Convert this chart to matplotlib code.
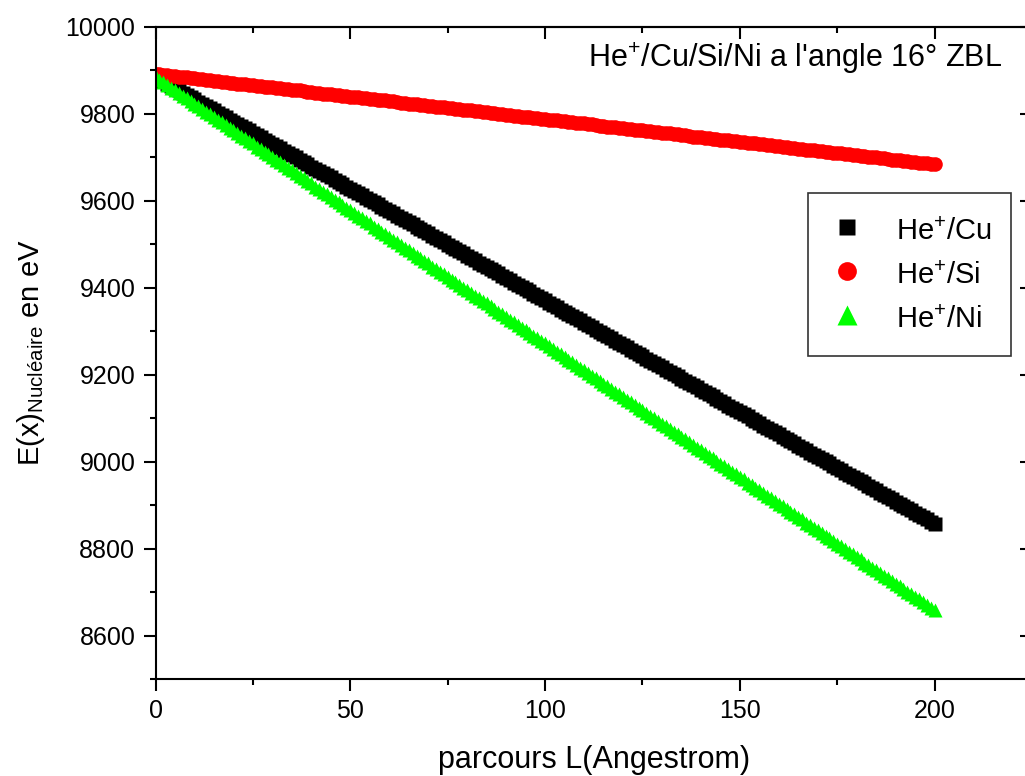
import numpy as np
import matplotlib
matplotlib.use("Agg")
import matplotlib.pyplot as plt
from matplotlib.ticker import MultipleLocator

plt.rcParams['font.family'] = ['Liberation Sans', 'DejaVu Sans']
plt.rcParams['mathtext.fontset'] = 'custom'
plt.rcParams['mathtext.rm'] = 'Liberation Sans'
plt.rcParams['mathtext.it'] = 'Liberation Sans:italic'

# -------------------------------
# Data, path length L in Angstrom
# -------------------------------
parcours = [
    0, 1, 2, 3, 4, 5, 6, 7, 8, 9, 10, 11, 12, 13, 14, 15, 16, 17, 18, 19,
    20, 21, 22, 23, 24, 25, 26, 27, 28, 29, 30, 31, 32, 33, 34, 35, 36, 37, 38, 39,
    40, 41, 42, 43, 44, 45, 46, 47, 48, 49, 50, 51, 52, 53, 54, 55, 56, 57, 58, 59,
    60, 61, 62, 63, 64, 65, 66, 67, 68, 69, 70, 71, 72, 73, 74, 75, 76, 77, 78, 79,
    80, 81, 82, 83, 84, 85, 86, 87, 88, 89, 90, 91, 92, 93, 94, 95, 96, 97, 98, 99,
    100, 101, 102, 103, 104, 105, 106, 107, 108, 109, 110, 111, 112, 113, 114, 115, 116, 117, 118, 119,
    120, 121, 122, 123, 124, 125, 126, 127, 128, 129, 130, 131, 132, 133, 134, 135, 136, 137, 138, 139,
    140, 141, 142, 143, 144, 145, 146, 147, 148, 149, 150, 151, 152, 153, 154, 155, 156, 157, 158, 159,
    160, 161, 162, 163, 164, 165, 166, 167, 168, 169, 170, 171, 172, 173, 174, 175, 176, 177, 178, 179,
    180, 181, 182, 183, 184, 185, 186, 187, 188, 189, 190, 191, 192, 193, 194, 195, 196, 197, 198, 199,
    200,
]

E_cu = [
    9885, 9880, 9875, 9870, 9864, 9859, 9854, 9849, 9844, 9839, 9834, 9828, 9823, 9818, 9813, 9808, 9803, 9798, 9792, 9787,
    9782, 9777, 9772, 9767, 9762, 9756, 9751, 9746, 9741, 9736, 9731, 9726, 9721, 9715, 9710, 9705, 9700, 9695, 9690, 9685,
    9679, 9674, 9669, 9664, 9659, 9654, 9649, 9643, 9638, 9633, 9628, 9623, 9618, 9613, 9607, 9602, 9597, 9592, 9587, 9582,
    9577, 9571, 9566, 9561, 9556, 9551, 9546, 9541, 9535, 9530, 9525, 9520, 9515, 9510, 9505, 9499, 9494, 9489, 9484, 9479,
    9474, 9469, 9464, 9458, 9453, 9448, 9443, 9438, 9433, 9428, 9422, 9417, 9412, 9407, 9402, 9397, 9392, 9386, 9381, 9376,
    9371, 9366, 9361, 9356, 9350, 9345, 9340, 9335, 9330, 9325, 9320, 9314, 9309, 9304, 9299, 9294, 9289, 9284, 9278, 9273,
    9268, 9263, 9258, 9253, 9248, 9242, 9237, 9232, 9227, 9222, 9217, 9212, 9207, 9201, 9196, 9191, 9186, 9181, 9176, 9171,
    9165, 9160, 9155, 9150, 9145, 9140, 9135, 9129, 9124, 9119, 9114, 9109, 9104, 9099, 9093, 9088, 9083, 9078, 9073, 9068,
    9063, 9057, 9052, 9047, 9042, 9037, 9032, 9027, 9021, 9016, 9011, 9006, 9001, 8996, 8991, 8985, 8980, 8975, 8970, 8965,
    8960, 8955, 8950, 8944, 8939, 8934, 8929, 8924, 8919, 8914, 8908, 8903, 8898, 8893, 8888, 8883, 8878, 8872, 8867, 8862,
    8857,
]

E_si = [
    9892, 9891, 9890, 9889, 9888, 9887, 9886, 9885, 9884, 9883, 9882, 9881, 9880, 9878, 9877, 9876, 9875, 9874, 9873, 9872,
    9871, 9870, 9869, 9868, 9867, 9866, 9865, 9864, 9863, 9862, 9861, 9860, 9859, 9858, 9857, 9856, 9855, 9854, 9852, 9851,
    9850, 9849, 9848, 9847, 9846, 9845, 9844, 9843, 9842, 9841, 9840, 9839, 9838, 9837, 9836, 9835, 9834, 9833, 9832, 9831,
    9830, 9829, 9828, 9826, 9825, 9824, 9823, 9822, 9821, 9820, 9819, 9818, 9817, 9816, 9815, 9814, 9813, 9812, 9811, 9810,
    9809, 9808, 9807, 9806, 9805, 9804, 9803, 9802, 9800, 9799, 9798, 9797, 9796, 9795, 9794, 9793, 9792, 9791, 9790, 9789,
    9788, 9787, 9786, 9785, 9784, 9783, 9782, 9781, 9780, 9779, 9778, 9777, 9776, 9774, 9773, 9772, 9771, 9770, 9769, 9768,
    9767, 9766, 9765, 9764, 9763, 9762, 9761, 9760, 9759, 9758, 9757, 9756, 9755, 9754, 9753, 9752, 9751, 9750, 9748, 9747,
    9746, 9745, 9744, 9743, 9742, 9741, 9740, 9739, 9738, 9737, 9736, 9735, 9734, 9733, 9732, 9731, 9730, 9729, 9728, 9727,
    9726, 9725, 9724, 9722, 9721, 9720, 9719, 9718, 9717, 9716, 9715, 9714, 9713, 9712, 9711, 9710, 9709, 9708, 9707, 9706,
    9705, 9704, 9703, 9702, 9701, 9700, 9699, 9698, 9696, 9695, 9694, 9693, 9692, 9691, 9690, 9689, 9688, 9687, 9686, 9685,
    9684,
]

E_ni = [
    9885, 9879, 9873, 9867, 9860, 9854, 9848, 9842, 9836, 9830, 9824, 9818, 9811, 9805, 9799, 9793, 9787, 9781, 9775, 9768,
    9762, 9756, 9750, 9744, 9738, 9732, 9725, 9719, 9713, 9707, 9701, 9695, 9689, 9683, 9676, 9670, 9664, 9658, 9652, 9646,
    9640, 9633, 9627, 9621, 9615, 9609, 9603, 9597, 9591, 9584, 9578, 9572, 9566, 9560, 9554, 9548, 9541, 9535, 9529, 9523,
    9517, 9511, 9505, 9498, 9492, 9486, 9480, 9474, 9468, 9462, 9456, 9449, 9443, 9437, 9431, 9425, 9419, 9413, 9406, 9400,
    9394, 9388, 9382, 9376, 9370, 9364, 9357, 9351, 9345, 9339, 9333, 9327, 9321, 9314, 9308, 9302, 9296, 9290, 9284, 9278,
    9272, 9265, 9259, 9253, 9247, 9241, 9235, 9229, 9222, 9216, 9210, 9204, 9198, 9192, 9186, 9179, 9173, 9167, 9161, 9155,
    9149, 9143, 9137, 9130, 9124, 9118, 9112, 9106, 9100, 9094, 9087, 9081, 9075, 9069, 9063, 9057, 9051, 9045, 9038, 9032,
    9026, 9020, 9014, 9008, 9002, 8995, 8989, 8983, 8977, 8971, 8965, 8959, 8952, 8946, 8940, 8934, 8928, 8922, 8916, 8910,
    8903, 8897, 8891, 8885, 8879, 8873, 8867, 8860, 8854, 8848, 8842, 8836, 8830, 8824, 8818, 8811, 8805, 8799, 8793, 8787,
    8781, 8775, 8768, 8762, 8756, 8750, 8744, 8738, 8732, 8725, 8719, 8713, 8707, 8701, 8695, 8689, 8683, 8676, 8670, 8664,
    8658,
]

labels = [r'He$^{+}$/Cu', r'He$^{+}$/Si', r'He$^{+}$/Ni']

# -------------------------------
# Figure
# -------------------------------
W, H = 1025, 776
fig = plt.figure(figsize=(W / 100, H / 100), dpi=100)
ax = fig.add_axes([155.5 / W, 1 - 679 / H, (1032 - 155.5) / W, (679 - 27) / H])

ax.plot(parcours, E_cu, ls='none', marker='s', ms=9.5, color='black', mec='none', label=labels[0])
ax.plot(parcours, E_si, ls='none', marker='o', ms=10.5, color='#ff0000', mec='none', label=labels[1])
ax.plot(parcours, E_ni, ls='none', marker='^', ms=10.5, color='#00ff00', mec='none', label=labels[2])

ax.set_xlim(0, 225)
ax.set_ylim(8500, 10000)
ax.xaxis.set_major_locator(MultipleLocator(50))
ax.xaxis.set_minor_locator(MultipleLocator(25))
ax.yaxis.set_major_locator(MultipleLocator(200))
ax.yaxis.set_minor_locator(MultipleLocator(100))
ax.tick_params(which='both', direction='out', width=1.5, labelsize=18, pad=6)
ax.tick_params(which='major', length=8.5)
ax.tick_params(which='minor', length=4.5)
for sp in ax.spines.values():
    sp.set_linewidth(1.5)

# mirrored inward ticks on top / right
top = ax.secondary_xaxis('top')
top.xaxis.set_major_locator(MultipleLocator(50))
top.xaxis.set_minor_locator(MultipleLocator(25))
top.tick_params(which='both', direction='in', width=1.5, labeltop=False)
top.tick_params(which='major', length=8.5)
top.tick_params(which='minor', length=4.5)
top.spines['top'].set_linewidth(1.5)

right = ax.secondary_yaxis('right')
right.yaxis.set_major_locator(MultipleLocator(200))
right.yaxis.set_minor_locator(MultipleLocator(100))
right.tick_params(which='both', direction='in', width=1.5, labelright=False)
right.tick_params(which='major', length=8.5)
right.tick_params(which='minor', length=4.5)

ax.set_xlabel('parcours L(Angestrom)', fontsize=22, labelpad=16)
ax.set_ylabel(r'E(x)$_{\mathrm{Nucléaire}}$ en eV', fontsize=21, labelpad=13)

fig.text(588 / W, 1 - 67 / H, r"He$^{+}$/Cu/Si/Ni a l'angle 16° ZBL",
         fontsize=22, ha='left', va='baseline')

leg = ax.legend(loc='upper left', bbox_to_anchor=(808 / W, 1 - 193 / H),
                bbox_transform=fig.transFigure, borderaxespad=0,
                fontsize=21, frameon=True, fancybox=False, edgecolor='black',
                borderpad=0.7, handlelength=1.3, handleheight=1.4,
                handletextpad=1.0, labelspacing=0.36)
leg.get_frame().set_linewidth(1.2)
for h, ms in zip(leg.legend_handles, [11.5, 13.5, 15]):
    h.set_markersize(ms)

fig.savefig('out.png', dpi=100)
